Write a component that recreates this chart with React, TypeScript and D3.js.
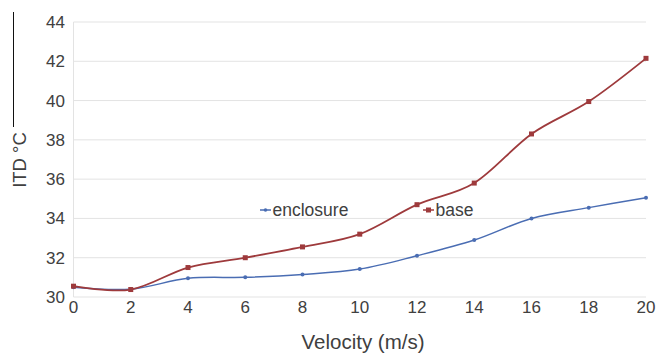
import React, { useEffect, useRef } from 'react';
import * as d3 from 'd3';

// velocity (m/s)
const velocity = [0, 2, 4, 6, 8, 10, 12, 14, 16, 18, 20];
// ITD (°C) per series
const enclosure = [30.5, 30.4, 30.95, 31.0, 31.15, 31.42, 32.1, 32.9, 34.0, 34.55, 35.05];
const base = [30.55, 30.38, 31.5, 32.0, 32.55, 33.2, 34.7, 35.8, 38.3, 39.95, 42.15];
const yTicks = [30, 32, 34, 36, 38, 40, 42, 44];
const xTicks = [0, 2, 4, 6, 8, 10, 12, 14, 16, 18, 20];

const W = 659;
const H = 354;
const FONT = 'Liberation Sans, Arial, sans-serif';
const TEXT = '#404040';
const RED = '#9e3a3c';
const BLUE = '#4a6db3';

const App = () => {
  const svgRef = useRef<SVGSVGElement>(null);

  useEffect(() => {
    const svg = d3.select(svgRef.current);
    svg.selectAll('*').remove();

    const x = d3.scaleLinear().domain([0, 20]).range([73.5, 646]);
    const y = d3.scaleLinear().domain([30, 44]).range([297, 22]);

    // grid lines
    svg.append('g')
      .selectAll('line')
      .data(yTicks)
      .enter()
      .append('line')
      .attr('x1', x(0))
      .attr('x2', x(20))
      .attr('y1', d => y(d))
      .attr('y2', d => y(d))
      .attr('stroke', '#e3e3e3')
      .attr('stroke-width', 1);

    // left axis line
    svg.append('line')
      .attr('x1', x(0)).attr('x2', x(0))
      .attr('y1', y(44)).attr('y2', y(30))
      .attr('stroke', '#e3e3e3');

    // stray black line at far left
    svg.append('line')
      .attr('x1', 13.5).attr('x2', 13.5)
      .attr('y1', 12).attr('y2', 127)
      .attr('stroke', '#111')
      .attr('stroke-width', 1);

    // y tick labels
    svg.append('g')
      .selectAll('text')
      .data(yTicks)
      .enter()
      .append('text')
      .attr('x', 65)
      .attr('y', d => y(d) + 6)
      .attr('text-anchor', 'end')
      .attr('font-family', FONT)
      .attr('font-size', 17)
      .attr('fill', TEXT)
      .text(d => d);

    // x tick labels
    svg.append('g')
      .selectAll('text')
      .data(xTicks)
      .enter()
      .append('text')
      .attr('x', d => x(d))
      .attr('y', 313)
      .attr('text-anchor', 'middle')
      .attr('font-family', FONT)
      .attr('font-size', 17)
      .attr('fill', TEXT)
      .text(d => d);

    // axis titles
    svg.append('text')
      .attr('x', 363)
      .attr('y', 348.5)
      .attr('text-anchor', 'middle')
      .attr('font-family', FONT)
      .attr('font-size', 20.5)
      .attr('fill', TEXT)
      .text('Velocity (m/s)');

    svg.append('text')
      .attr('transform', 'translate(25.5,160) rotate(-90)')
      .attr('text-anchor', 'middle')
      .attr('font-family', FONT)
      .attr('font-size', 18.5)
      .attr('fill', TEXT)
      .text('ITD °C');

    const line = d3.line<number>()
      .x((_, i) => x(velocity[i]))
      .y(d => y(d))
      .curve(d3.curveCatmullRom.alpha(0));

    // enclosure series
    svg.append('path')
      .attr('d', line(enclosure))
      .attr('fill', 'none')
      .attr('stroke', BLUE)
      .attr('stroke-width', 1.5);

    svg.append('g')
      .selectAll('circle')
      .data(enclosure)
      .enter()
      .append('circle')
      .attr('cx', (_, i) => x(velocity[i]))
      .attr('cy', d => y(d))
      .attr('r', 2)
      .attr('fill', BLUE);

    // base series
    svg.append('path')
      .attr('d', line(base))
      .attr('fill', 'none')
      .attr('stroke', RED)
      .attr('stroke-width', 1.8);

    svg.append('g')
      .selectAll('rect')
      .data(base)
      .enter()
      .append('rect')
      .attr('x', (_, i) => x(velocity[i]) - 2.5)
      .attr('y', d => y(d) - 2.5)
      .attr('width', 5)
      .attr('height', 5)
      .attr('fill', RED);

    // legend
    const legend = [
      { name: 'enclosure', color: BLUE, x: 260 },
      { name: 'base', color: RED, x: 423 },
    ];
    const lg = svg.append('g')
      .selectAll('g')
      .data(legend)
      .enter()
      .append('g')
      .attr('transform', d => `translate(${d.x},210)`);
    lg.append('line')
      .attr('x1', 0).attr('x2', 11)
      .attr('y1', 0).attr('y2', 0)
      .attr('stroke', d => d.color)
      .attr('stroke-width', 1.5);
    lg.filter(d => d.name === 'base')
      .append('rect')
      .attr('x', 3).attr('y', -2.5)
      .attr('width', 5).attr('height', 5)
      .attr('fill', RED);
    lg.filter(d => d.name === 'enclosure')
      .append('circle')
      .attr('cx', 5.5).attr('cy', 0).attr('r', 1.8)
      .attr('fill', BLUE);
    lg.append('text')
      .attr('x', 12.5)
      .attr('y', 6)
      .attr('font-family', FONT)
      .attr('font-size', 17.5)
      .attr('fill', TEXT)
      .text(d => d.name);
  }, []);

  return (
    <svg
      ref={svgRef}
      width={W}
      height={H}
      style={{ position: 'absolute', left: 0, top: 0, background: '#fff' }}
    />
  );
};

export default App;
